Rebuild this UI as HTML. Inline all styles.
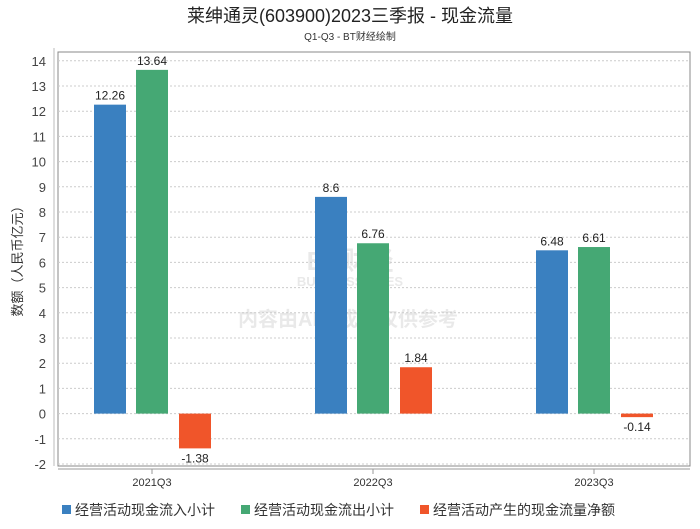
<!DOCTYPE html>
<html><head><meta charset="utf-8"><style>
body{margin:0;background:#fff;}
svg text{font-family:"Liberation Sans","Noto Sans CJK SC",sans-serif;}
</style></head><body>
<svg id="chart" width="700" height="524" xmlns="http://www.w3.org/2000/svg">
<text x="350" y="22" text-anchor="middle" font-size="18" fill="#222">莱绅通灵(603900)2023三季报 - 现金流量</text>
<text x="350" y="40" text-anchor="middle" font-size="10" fill="#333">Q1-Q3 - BT财经绘制</text>
<g opacity="0.18">
<text x="350" y="270" text-anchor="middle" font-size="26" font-weight="bold" fill="#888">BT财经</text>
<text x="350" y="286" text-anchor="middle" font-size="13" font-weight="bold" fill="#888">BUSINESSTIMES</text>
<text x="348" y="326" text-anchor="middle" font-size="20" font-weight="bold" fill="#888">内容由AI生成，仅供参考</text>
</g>
<rect x="58" y="52" width="632" height="414" fill="none" stroke="#888" stroke-width="1"/>
<line x1="54" y1="48" x2="54" y2="466" stroke="#bbb"/>
<line x1="58" y1="469" x2="690" y2="469" stroke="#999"/>
<g id="grid"></g><g id="bars"></g><g id="xlab"></g>
<text transform="translate(22,258) rotate(-90)" text-anchor="middle" font-size="13" fill="#333">数额（人民币亿元）</text>
<g font-size="14" fill="#333">
<rect x="62" y="505" width="9" height="9" fill="#3a80c0"/>
<text x="75" y="515">经营活动现金流入小计</text>
<rect x="241" y="505" width="9" height="9" fill="#45a874"/>
<text x="254" y="515">经营活动现金流出小计</text>
<rect x="420" y="505" width="9" height="9" fill="#f0552a"/>
<text x="433" y="515">经营活动产生的现金流量净额</text>
</g>
</svg>
<script>
const categories=["2021Q3","2022Q3","2023Q3"];
const inflow=[12.26,8.6,6.48];
const outflow=[13.64,6.76,6.61];
const net=[-1.38,1.84,-0.14];
const yTicks=[-2,-1,0,1,2,3,4,5,6,7,8,9,10,11,12,13,14];
const NS="http://www.w3.org/2000/svg";
const y=v=>413.6-v*25.2;
const xc=i=>152+i*221;
function mk(t,a,p){const e=document.createElementNS(NS,t);for(const k in a)e.setAttribute(k,a[k]);p.appendChild(e);return e;}
const grid=document.getElementById('grid');
yTicks.forEach(t=>{
 const l=mk('line',{x1:58,x2:690,y1:y(t),y2:y(t),stroke:'#ccc','stroke-dasharray':'2,2'},grid);
 
 
 const tx=mk('text',{x:46,y:y(t)+5,'text-anchor':'end','font-size':13,fill:'#444'},grid);
 tx.textContent=t;
 
 
});
const bars=document.getElementById('bars');
const series=[[inflow,'#3a80c0',-42,'inflow'],[outflow,'#45a874',0,'outflow'],[net,'#f0552a',43,'net']];
categories.forEach((c,i)=>{
 series.forEach(([arr,col,off,nm])=>{
  const v=arr[i];const x=xc(i)+off-16;
  const top=Math.min(y(v),y(0)),h=Math.abs(y(v)-y(0));
  const r=mk('rect',{x:x,y:top,width:32,height:h,fill:col},bars);
  
  
  const ly=v>=0?y(v)-5:y(v)+14;
  const t=mk('text',{x:x+16,y:ly,'text-anchor':'middle','font-size':12,fill:'#222'},bars);
  t.textContent=v;
  
  
 });
 const xl=document.getElementById('xlab');
 const tk=mk('line',{x1:xc(i),x2:xc(i),y1:469,y2:474,stroke:'#999'},xl);
 
 
 const t=mk('text',{x:xc(i),y:486,'text-anchor':'middle','font-size':11,fill:'#333'},xl);
 t.textContent=c;
 
 
});
</script>
</body></html>
